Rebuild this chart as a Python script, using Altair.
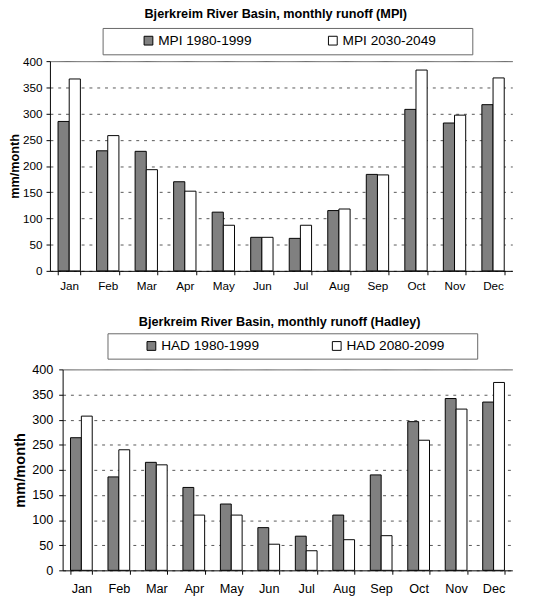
import altair as alt
import pandas as pd

months = ["Jan", "Feb", "Mar", "Apr", "May", "Jun", "Jul", "Aug", "Sep", "Oct", "Nov", "Dec"]

mpi_series = ["MPI 1980-1999", "MPI 2030-2049"]
mpi_1980_1999 = [285, 229, 228, 170, 112, 64, 62, 115, 184, 308, 282, 317]
mpi_2030_2049 = [366, 258, 193, 152, 87, 64, 87, 118, 183, 383, 297, 368]

had_series = ["HAD 1980-1999", "HAD 2080-2099"]
had_1980_1999 = [264, 186, 215, 165, 132, 85, 68, 110, 190, 296, 342, 335]
had_2080_2099 = [307, 240, 210, 110, 110, 52, 39, 61, 69, 259, 321, 374]

y_ticks = [0, 50, 100, 150, 200, 250, 300, 350, 400]

FONT = "Liberation Sans"
NB = "\u00a0"
ZW = "\u200b"


def make_df(series, a, b):
    rows = []
    for m, v in zip(months, a):
        rows.append({"month": m, "series": series[0], "value": v})
    for m, v in zip(months, b):
        rows.append({"month": m, "series": series[1], "value": v})
    return pd.DataFrame(rows)


def panel(df, series, title, width, height, x_start, fs_tick, fs_ytitle, fs_title,
          title_dx, title_offset, y_offset, ytitle_pad, ylabel_pad, leg_x, leg_y,
          leg_title_n, leg_title_fs, leg_right_n, col_pad, xlabel_pad):
    suffix = NB * leg_right_n + ZW
    expr = "datum.label == '%s' ? datum.label + '%s' : datum.label" % (series[1], suffix)
    return alt.Chart(df, title=alt.TitleParams(
        title, font=FONT, fontSize=fs_title, fontWeight="bold", color="black",
        anchor="middle", dx=title_dx, offset=title_offset)).mark_bar(
        stroke="black", strokeWidth=1
    ).encode(
        x=alt.X("month:N", sort=months, title=None,
                scale=alt.Scale(range=[x_start, width], paddingInner=0.42, paddingOuter=0.21),
                axis=alt.Axis(labelAngle=0, labelFont=FONT, labelFontSize=fs_tick,
                              labelColor="black", tickBand="extent", tickSize=4,
                              tickColor="black", domainColor="black",
                              labelPadding=xlabel_pad, grid=False)),
        xOffset=alt.XOffset("series:N", sort=series,
                            scale=alt.Scale(domain=series, paddingInner=0, paddingOuter=0)),
        y=alt.Y("value:Q", title="mm/month",
                scale=alt.Scale(domain=[0, 400], nice=False),
                axis=alt.Axis(values=y_ticks, labelFont=FONT, labelFontSize=fs_tick,
                              labelColor="black", tickSize=4, tickColor="black",
                              domainColor="black", titleFont=FONT, offset=y_offset,
                              titleFontSize=fs_ytitle, titleFontWeight="bold",
                              titleColor="black", titlePadding=ytitle_pad,
                              labelPadding=ylabel_pad,
                              grid=True, gridColor="#555555",
                              gridDash={"condition": {"test": "datum.value == 400", "value": [1, 0]},
                                        "value": [3, 5]})),
        color=alt.Color("series:N", sort=series,
                        scale=alt.Scale(domain=series, range=["#808080", "#ffffff"]),
                        legend=alt.Legend(
                            orient="none", legendX=leg_x, legendY=leg_y,
                            direction="horizontal", columns=2,
                            title=ZW + NB * leg_title_n + ZW, titleOrient="left",
                            titleFont=FONT, titleFontSize=leg_title_fs, titlePadding=0,
                            labelFont=FONT, labelFontSize=14, labelColor="black",
                            labelExpr=expr, labelOffset=3,
                            symbolType="square", symbolSize=81,
                            symbolStrokeColor="black", symbolStrokeWidth=1,
                            columnPadding=col_pad, padding=6,
                            strokeColor="#666666")),
    ).properties(width=width, height=height)


# top panel: plot group starts at x=63 (shared), bars/axis shifted 13px left
top = panel(make_df(mpi_series, mpi_1980_1999, mpi_2030_2049), mpi_series,
            "Bjerkreim River Basin, monthly runoff (MPI)", 461, 215, -13,
            12, 13, 13, -12, 7, 13, 1, 4, 41, -34, 8, 15, 8, 76, 6)
bottom = panel(make_df(had_series, had_1980_1999, had_2080_2099), had_series,
               "Bjerkreim River Basin, monthly runoff (Hadley)", 461, 206, 0,
               13, 15, 13, -8, 3.5, 0, 4, 6, 46, -37, 8, 14, 7, 72, 9)

chart = alt.vconcat(top, bottom, spacing=26).resolve_scale(
    color="independent", x="independent", y="independent", xOffset="independent"
).resolve_legend(color="independent").properties(
    padding={"left": 0, "top": -8, "right": 0, "bottom": 0}, background="white"
).configure_view(stroke=None)

chart.save("out.html", embed_options={"renderer": "svg", "actions": False})
